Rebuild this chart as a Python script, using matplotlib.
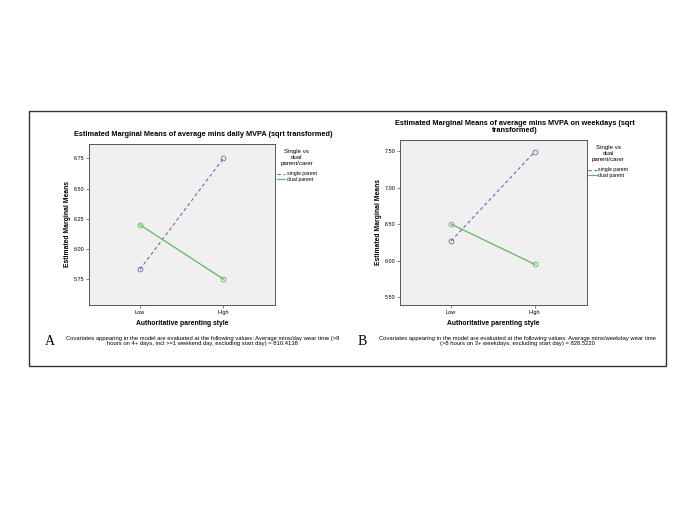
import numpy as np
import matplotlib
matplotlib.use("Agg")
from matplotlib import pyplot as plt
from matplotlib.patches import Rectangle
from matplotlib.lines import Line2D

plt.rcParams['font.family'] = ['Liberation Sans', 'DejaVu Sans']

# data
styles = ['Low', 'High']
groups = ['single parent', 'dual parent']

daily_single = [5.83, 6.75]
daily_dual = [6.20, 5.75]
daily_ticks = [5.75, 6.00, 6.25, 6.50, 6.75]

week_single = [6.27, 7.49]
week_dual = [6.50, 5.95]
week_ticks = [5.50, 6.00, 6.50, 7.00, 7.50]

titles = ['Estimated Marginal Means of average mins daily MVPA (sqrt transformed)',
          'Estimated Marginal Means of average mins MVPA on weekdays (sqrt\ntransformed)']
notes = ['Covariates appearing in the model are evaluated at the following values: Average mins/day wear time (>8\n'
         'hours on 4+ days, incl >=1 weekend day, excluding start day) = 810.4138',
         'Covariates appearing in the model are evaluated at the following values: Average mins/weekday wear time\n'
         '(>8 hours on 3+ weekdays, excluding start day) = 828.5220']
letters = ['A', 'B']

c_single = '#6a6aae'
c_dual = '#5db860'
dash = (0, (3, 2.5))

fig = plt.figure(figsize=(6.85, 5.13), dpi=100)
fig.patch.set_facecolor('white')

# outer frame
fig.patches.append(Rectangle((0.0423, 0.2865), 0.930, 0.497, transform=fig.transFigure,
                             fill=False, edgecolor='#333333', linewidth=1.0))

axA = fig.add_axes([0.130, 0.4055, 0.2715, 0.3138])
axB = fig.add_axes([0.584, 0.4055, 0.2725, 0.3216])

panels = [(axA, daily_single, daily_dual, daily_ticks, (5.535, 6.87)),
          (axB, week_single, week_dual, week_ticks, (5.395, 7.65))]

handles = [Line2D([], [], color=c_single, linestyle=dash, linewidth=0.8),
           Line2D([], [], color=c_dual, linestyle='-', linewidth=0.9)]

x = np.arange(len(styles))
for i, (ax, s, d, ticks, yl) in enumerate(panels):
    ax.set_facecolor('#f0f0f0')
    ax.plot(x, s, linestyle=dash, color=c_single, linewidth=0.8,
            marker='o', markersize=3.5, markerfacecolor='none', markeredgewidth=0.6)
    ax.plot(x, d, linestyle='-', color=c_dual, linewidth=0.9,
            marker='o', markersize=3.5, markerfacecolor='none', markeredgewidth=0.6)
    ax.set_xlim(-0.61, 1.62)
    ax.set_ylim(*yl)
    ax.set_xticks(x)
    ax.set_xticklabels(styles)
    ax.set_yticks(ticks)
    ax.set_yticklabels(['%.2f' % t for t in ticks])
    ax.tick_params(labelsize=4.0, length=2, width=0.5, color='#555555', pad=1.5)
    for sp in ax.spines.values():
        sp.set_color('#555555')
        sp.set_linewidth(0.7)
    ax.set_xlabel('Authoritative parenting style', fontsize=4.9, fontweight='bold', labelpad=4)
    ax.set_ylabel('Estimated Marginal Means', fontsize=4.9, fontweight='bold', labelpad=1.5)
    ax.set_title(titles[i], fontsize=5.3, fontweight='bold', pad=6, linespacing=0.9, x=0.615)
    leg = ax.legend(handles, groups, title='Single vs\ndual\nparent/carer', loc='upper left',
                    bbox_to_anchor=(0.99, 0.99), frameon=False, fontsize=3.7,
                    title_fontsize=4.4, handlelength=1.6, handletextpad=0.3,
                    labelspacing=0.15, borderpad=0.2)
    leg.get_title().set_multialignment('center')
    leg.get_title().set_linespacing(1.2)
    leg._legend_box.sep = 4

# footnotes
fig.text(0.073, 0.335, letters[0], family='Liberation Serif', fontsize=10, va='center', ha='center')
fig.text(0.296, 0.335, notes[0], fontsize=4.25, ha='center', va='center', linespacing=1.05)
fig.text(0.529, 0.335, letters[1], family='Liberation Serif', fontsize=10, va='center', ha='center')
fig.text(0.755, 0.335, notes[1], fontsize=4.25, ha='center', va='center', linespacing=1.05)

fig.savefig('out.png', dpi=100)
